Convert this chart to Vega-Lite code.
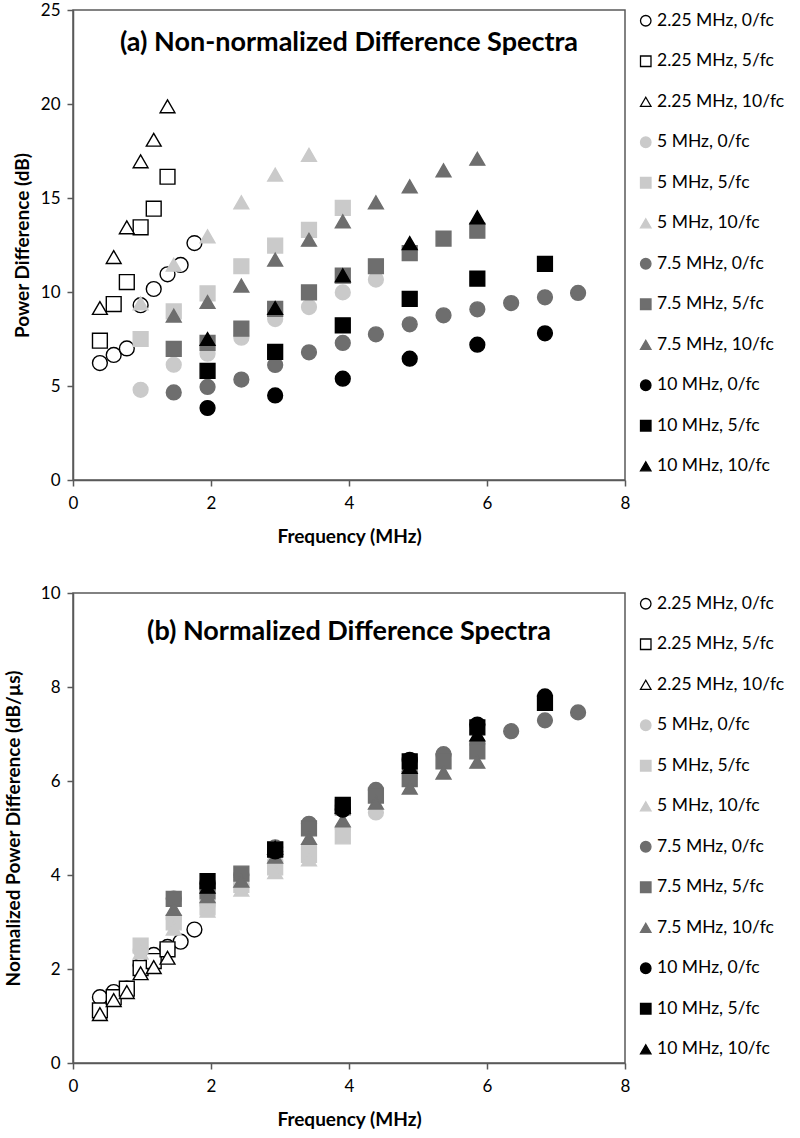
{
  "$schema": "https://vega.github.io/schema/vega-lite/v6.json",
  "background": "white",
  "padding": {"left": 3, "top": 0, "right": 0, "bottom": 0},
  "spacing": 36,
  "config": {
    "font": "Lato",
    "view": {"stroke": "#595959", "strokeWidth": 1.5},
    "axis": {
      "grid": false, "domainColor": "#595959", "domainWidth": 1.5,
      "tickColor": "#595959", "tickWidth": 1.5, "tickSize": 6,
      "labelFont": "Lato", "labelFontSize": 17, "labelColor": "#000000", "labelFlush": false, "labelOverlap": false,
      "titleFont": "Lato", "titleFontSize": 19, "titleFontWeight": "bold", "titleColor": "#000000"
    },
    "axisX": {"labelPadding": 9, "titlePadding": 16},
    "axisY": {"labelPadding": 7},
    "legend": {
      "labelFont": "Lato", "labelFontSize": 17.5, "labelColor": "#000000",
      "rowPadding": 21.5, "symbolSize": 110, "symbolStrokeWidth": 1.3, "offset": 10, "padding": 2, "labelOffset": 2.5
    },
    "title": {"font": "Lato", "fontSize": 27, "fontWeight": "bold", "color": "#000000", "anchor": "middle", "frame": "group", "baseline": "alphabetic", "offset": -56}
  },
  "datasets": {
    "a": [
      {"s": "2.25 MHz, 0/fc", "f": 0.39, "v": 6.22}, {"s": "2.25 MHz, 0/fc", "f": 0.59, "v": 6.65}, {"s": "2.25 MHz, 0/fc", "f": 0.78, "v": 7.0}, {"s": "2.25 MHz, 0/fc", "f": 0.98, "v": 9.3}, {"s": "2.25 MHz, 0/fc", "f": 1.17, "v": 10.16}, {"s": "2.25 MHz, 0/fc", "f": 1.37, "v": 10.94}, {"s": "2.25 MHz, 0/fc", "f": 1.56, "v": 11.44}, {"s": "2.25 MHz, 0/fc", "f": 1.76, "v": 12.6},
      {"s": "2.25 MHz, 5/fc", "f": 0.39, "v": 7.41}, {"s": "2.25 MHz, 5/fc", "f": 0.59, "v": 9.36}, {"s": "2.25 MHz, 5/fc", "f": 0.78, "v": 10.53}, {"s": "2.25 MHz, 5/fc", "f": 0.98, "v": 13.44}, {"s": "2.25 MHz, 5/fc", "f": 1.17, "v": 14.43}, {"s": "2.25 MHz, 5/fc", "f": 1.37, "v": 16.13},
      {"s": "2.25 MHz, 10/fc", "f": 0.39, "v": 9.15}, {"s": "2.25 MHz, 10/fc", "f": 0.59, "v": 11.86}, {"s": "2.25 MHz, 10/fc", "f": 0.78, "v": 13.44}, {"s": "2.25 MHz, 10/fc", "f": 0.98, "v": 16.95}, {"s": "2.25 MHz, 10/fc", "f": 1.17, "v": 18.1}, {"s": "2.25 MHz, 10/fc", "f": 1.37, "v": 19.88},
      {"s": "5 MHz, 0/fc", "f": 0.98, "v": 4.8}, {"s": "5 MHz, 0/fc", "f": 1.46, "v": 6.13}, {"s": "5 MHz, 0/fc", "f": 1.95, "v": 6.72}, {"s": "5 MHz, 0/fc", "f": 2.44, "v": 7.57}, {"s": "5 MHz, 0/fc", "f": 2.93, "v": 8.56}, {"s": "5 MHz, 0/fc", "f": 3.42, "v": 9.2}, {"s": "5 MHz, 0/fc", "f": 3.91, "v": 9.98}, {"s": "5 MHz, 0/fc", "f": 4.39, "v": 10.66},
      {"s": "5 MHz, 5/fc", "f": 0.98, "v": 7.5}, {"s": "5 MHz, 5/fc", "f": 1.46, "v": 8.97}, {"s": "5 MHz, 5/fc", "f": 1.95, "v": 9.93}, {"s": "5 MHz, 5/fc", "f": 2.44, "v": 11.37}, {"s": "5 MHz, 5/fc", "f": 2.93, "v": 12.47}, {"s": "5 MHz, 5/fc", "f": 3.42, "v": 13.3}, {"s": "5 MHz, 5/fc", "f": 3.91, "v": 14.47},
      {"s": "5 MHz, 10/fc", "f": 0.98, "v": 9.4}, {"s": "5 MHz, 10/fc", "f": 1.46, "v": 11.45}, {"s": "5 MHz, 10/fc", "f": 1.95, "v": 12.96}, {"s": "5 MHz, 10/fc", "f": 2.44, "v": 14.77}, {"s": "5 MHz, 10/fc", "f": 2.93, "v": 16.24}, {"s": "5 MHz, 10/fc", "f": 3.42, "v": 17.3},
      {"s": "7.5 MHz, 0/fc", "f": 1.46, "v": 4.66}, {"s": "7.5 MHz, 0/fc", "f": 1.95, "v": 4.95}, {"s": "7.5 MHz, 0/fc", "f": 2.44, "v": 5.34}, {"s": "7.5 MHz, 0/fc", "f": 2.93, "v": 6.12}, {"s": "7.5 MHz, 0/fc", "f": 3.42, "v": 6.79}, {"s": "7.5 MHz, 0/fc", "f": 3.91, "v": 7.29}, {"s": "7.5 MHz, 0/fc", "f": 4.39, "v": 7.75}, {"s": "7.5 MHz, 0/fc", "f": 4.88, "v": 8.28}, {"s": "7.5 MHz, 0/fc", "f": 5.37, "v": 8.76}, {"s": "7.5 MHz, 0/fc", "f": 5.86, "v": 9.08}, {"s": "7.5 MHz, 0/fc", "f": 6.35, "v": 9.41}, {"s": "7.5 MHz, 0/fc", "f": 6.84, "v": 9.72}, {"s": "7.5 MHz, 0/fc", "f": 7.32, "v": 9.95},
      {"s": "7.5 MHz, 5/fc", "f": 1.46, "v": 6.97}, {"s": "7.5 MHz, 5/fc", "f": 1.95, "v": 7.29}, {"s": "7.5 MHz, 5/fc", "f": 2.44, "v": 8.05}, {"s": "7.5 MHz, 5/fc", "f": 2.93, "v": 9.1}, {"s": "7.5 MHz, 5/fc", "f": 3.42, "v": 9.98}, {"s": "7.5 MHz, 5/fc", "f": 3.91, "v": 10.87}, {"s": "7.5 MHz, 5/fc", "f": 4.39, "v": 11.37}, {"s": "7.5 MHz, 5/fc", "f": 4.88, "v": 12.07}, {"s": "7.5 MHz, 5/fc", "f": 5.37, "v": 12.84}, {"s": "7.5 MHz, 5/fc", "f": 5.86, "v": 13.26},
      {"s": "7.5 MHz, 10/fc", "f": 1.46, "v": 8.74}, {"s": "7.5 MHz, 10/fc", "f": 1.95, "v": 9.47}, {"s": "7.5 MHz, 10/fc", "f": 2.44, "v": 10.34}, {"s": "7.5 MHz, 10/fc", "f": 2.93, "v": 11.72}, {"s": "7.5 MHz, 10/fc", "f": 3.42, "v": 12.78}, {"s": "7.5 MHz, 10/fc", "f": 3.91, "v": 13.76}, {"s": "7.5 MHz, 10/fc", "f": 4.39, "v": 14.77}, {"s": "7.5 MHz, 10/fc", "f": 4.88, "v": 15.62}, {"s": "7.5 MHz, 10/fc", "f": 5.37, "v": 16.47}, {"s": "7.5 MHz, 10/fc", "f": 5.86, "v": 17.09},
      {"s": "10 MHz, 0/fc", "f": 1.95, "v": 3.83}, {"s": "10 MHz, 0/fc", "f": 2.93, "v": 4.5}, {"s": "10 MHz, 0/fc", "f": 3.91, "v": 5.39}, {"s": "10 MHz, 0/fc", "f": 4.88, "v": 6.45}, {"s": "10 MHz, 0/fc", "f": 5.86, "v": 7.2}, {"s": "10 MHz, 0/fc", "f": 6.84, "v": 7.8},
      {"s": "10 MHz, 5/fc", "f": 1.95, "v": 5.81}, {"s": "10 MHz, 5/fc", "f": 2.93, "v": 6.81}, {"s": "10 MHz, 5/fc", "f": 3.91, "v": 8.23}, {"s": "10 MHz, 5/fc", "f": 4.88, "v": 9.63}, {"s": "10 MHz, 5/fc", "f": 5.86, "v": 10.71}, {"s": "10 MHz, 5/fc", "f": 6.84, "v": 11.49},
      {"s": "10 MHz, 10/fc", "f": 1.95, "v": 7.5}, {"s": "10 MHz, 10/fc", "f": 2.93, "v": 9.15}, {"s": "10 MHz, 10/fc", "f": 3.91, "v": 10.89}, {"s": "10 MHz, 10/fc", "f": 4.88, "v": 12.6}, {"s": "10 MHz, 10/fc", "f": 5.86, "v": 13.97}
    ],
    "b": [
      {"s": "2.25 MHz, 0/fc", "f": 0.39, "v": 1.40}, {"s": "2.25 MHz, 0/fc", "f": 0.59, "v": 1.51}, {"s": "2.25 MHz, 0/fc", "f": 0.78, "v": 1.58}, {"s": "2.25 MHz, 0/fc", "f": 0.98, "v": 2.08}, {"s": "2.25 MHz, 0/fc", "f": 1.17, "v": 2.30}, {"s": "2.25 MHz, 0/fc", "f": 1.37, "v": 2.47}, {"s": "2.25 MHz, 0/fc", "f": 1.56, "v": 2.58}, {"s": "2.25 MHz, 0/fc", "f": 1.76, "v": 2.84},
      {"s": "2.25 MHz, 5/fc", "f": 0.39, "v": 1.12}, {"s": "2.25 MHz, 5/fc", "f": 0.59, "v": 1.40}, {"s": "2.25 MHz, 5/fc", "f": 0.78, "v": 1.58}, {"s": "2.25 MHz, 5/fc", "f": 0.98, "v": 2.02}, {"s": "2.25 MHz, 5/fc", "f": 1.17, "v": 2.17}, {"s": "2.25 MHz, 5/fc", "f": 1.37, "v": 2.42},
      {"s": "2.25 MHz, 10/fc", "f": 0.39, "v": 1.04}, {"s": "2.25 MHz, 10/fc", "f": 0.59, "v": 1.34}, {"s": "2.25 MHz, 10/fc", "f": 0.78, "v": 1.51}, {"s": "2.25 MHz, 10/fc", "f": 0.98, "v": 1.91}, {"s": "2.25 MHz, 10/fc", "f": 1.17, "v": 2.04}, {"s": "2.25 MHz, 10/fc", "f": 1.37, "v": 2.24},
      {"s": "5 MHz, 0/fc", "f": 0.98, "v": 2.4}, {"s": "5 MHz, 0/fc", "f": 1.46, "v": 3.07}, {"s": "5 MHz, 0/fc", "f": 1.95, "v": 3.36}, {"s": "5 MHz, 0/fc", "f": 2.44, "v": 3.79}, {"s": "5 MHz, 0/fc", "f": 2.93, "v": 4.28}, {"s": "5 MHz, 0/fc", "f": 3.42, "v": 4.6}, {"s": "5 MHz, 0/fc", "f": 3.91, "v": 4.99}, {"s": "5 MHz, 0/fc", "f": 4.39, "v": 5.33},
      {"s": "5 MHz, 5/fc", "f": 0.98, "v": 2.5}, {"s": "5 MHz, 5/fc", "f": 1.46, "v": 2.99}, {"s": "5 MHz, 5/fc", "f": 1.95, "v": 3.31}, {"s": "5 MHz, 5/fc", "f": 2.44, "v": 3.79}, {"s": "5 MHz, 5/fc", "f": 2.93, "v": 4.16}, {"s": "5 MHz, 5/fc", "f": 3.42, "v": 4.43}, {"s": "5 MHz, 5/fc", "f": 3.91, "v": 4.82},
      {"s": "5 MHz, 10/fc", "f": 0.98, "v": 2.35}, {"s": "5 MHz, 10/fc", "f": 1.46, "v": 2.86}, {"s": "5 MHz, 10/fc", "f": 1.95, "v": 3.24}, {"s": "5 MHz, 10/fc", "f": 2.44, "v": 3.69}, {"s": "5 MHz, 10/fc", "f": 2.93, "v": 4.06}, {"s": "5 MHz, 10/fc", "f": 3.42, "v": 4.33},
      {"s": "7.5 MHz, 0/fc", "f": 1.46, "v": 3.50}, {"s": "7.5 MHz, 0/fc", "f": 1.95, "v": 3.71}, {"s": "7.5 MHz, 0/fc", "f": 2.44, "v": 4.0}, {"s": "7.5 MHz, 0/fc", "f": 2.93, "v": 4.59}, {"s": "7.5 MHz, 0/fc", "f": 3.42, "v": 5.09}, {"s": "7.5 MHz, 0/fc", "f": 3.91, "v": 5.47}, {"s": "7.5 MHz, 0/fc", "f": 4.39, "v": 5.81}, {"s": "7.5 MHz, 0/fc", "f": 4.88, "v": 6.21}, {"s": "7.5 MHz, 0/fc", "f": 5.37, "v": 6.57}, {"s": "7.5 MHz, 0/fc", "f": 5.86, "v": 6.81}, {"s": "7.5 MHz, 0/fc", "f": 6.35, "v": 7.06}, {"s": "7.5 MHz, 0/fc", "f": 6.84, "v": 7.29}, {"s": "7.5 MHz, 0/fc", "f": 7.32, "v": 7.46},
      {"s": "7.5 MHz, 5/fc", "f": 1.46, "v": 3.49}, {"s": "7.5 MHz, 5/fc", "f": 1.95, "v": 3.65}, {"s": "7.5 MHz, 5/fc", "f": 2.44, "v": 4.03}, {"s": "7.5 MHz, 5/fc", "f": 2.93, "v": 4.55}, {"s": "7.5 MHz, 5/fc", "f": 3.42, "v": 4.99}, {"s": "7.5 MHz, 5/fc", "f": 3.91, "v": 5.44}, {"s": "7.5 MHz, 5/fc", "f": 4.39, "v": 5.69}, {"s": "7.5 MHz, 5/fc", "f": 4.88, "v": 6.04}, {"s": "7.5 MHz, 5/fc", "f": 5.37, "v": 6.42}, {"s": "7.5 MHz, 5/fc", "f": 5.86, "v": 6.63},
      {"s": "7.5 MHz, 10/fc", "f": 1.46, "v": 3.28}, {"s": "7.5 MHz, 10/fc", "f": 1.95, "v": 3.55}, {"s": "7.5 MHz, 10/fc", "f": 2.44, "v": 3.88}, {"s": "7.5 MHz, 10/fc", "f": 2.93, "v": 4.39}, {"s": "7.5 MHz, 10/fc", "f": 3.42, "v": 4.79}, {"s": "7.5 MHz, 10/fc", "f": 3.91, "v": 5.16}, {"s": "7.5 MHz, 10/fc", "f": 4.39, "v": 5.54}, {"s": "7.5 MHz, 10/fc", "f": 4.88, "v": 5.86}, {"s": "7.5 MHz, 10/fc", "f": 5.37, "v": 6.18}, {"s": "7.5 MHz, 10/fc", "f": 5.86, "v": 6.41},
      {"s": "10 MHz, 0/fc", "f": 1.95, "v": 3.83}, {"s": "10 MHz, 0/fc", "f": 2.93, "v": 4.5}, {"s": "10 MHz, 0/fc", "f": 3.91, "v": 5.39}, {"s": "10 MHz, 0/fc", "f": 4.88, "v": 6.45}, {"s": "10 MHz, 0/fc", "f": 5.86, "v": 7.2}, {"s": "10 MHz, 0/fc", "f": 6.84, "v": 7.8},
      {"s": "10 MHz, 5/fc", "f": 1.95, "v": 3.87}, {"s": "10 MHz, 5/fc", "f": 2.93, "v": 4.54}, {"s": "10 MHz, 5/fc", "f": 3.91, "v": 5.49}, {"s": "10 MHz, 5/fc", "f": 4.88, "v": 6.42}, {"s": "10 MHz, 5/fc", "f": 5.86, "v": 7.14}, {"s": "10 MHz, 5/fc", "f": 6.84, "v": 7.66},
      {"s": "10 MHz, 10/fc", "f": 1.95, "v": 3.75}, {"s": "10 MHz, 10/fc", "f": 2.93, "v": 4.58}, {"s": "10 MHz, 10/fc", "f": 3.91, "v": 5.45}, {"s": "10 MHz, 10/fc", "f": 4.88, "v": 6.3}, {"s": "10 MHz, 10/fc", "f": 5.86, "v": 6.99}
    ]
  },
  "vconcat": [
    {
      "width": 552, "height": 470,
      "title": {"text": "(a) Non-normalized Difference Spectra"},
      "data": {"name": "a"},
      "mark": {"type": "point", "filled": true, "opacity": 1, "size": 220, "strokeWidth": 1.4},
      "encoding": {
        "x": {"field": "f", "type": "quantitative", "scale": {"domain": [0, 8], "nice": false, "zero": false}, "axis": {"values": [0, 2, 4, 6, 8], "title": "Frequency (MHz)"}},
        "y": {"field": "v", "type": "quantitative", "scale": {"domain": [0, 25], "nice": false}, "axis": {"values": [0, 5, 10, 15, 20, 25], "title": "Power Difference (dB)", "titlePadding": 8}},
        "shape": {"field": "s", "type": "nominal", "sort": null, "title": null, "scale": {"domain": ["2.25 MHz, 0/fc", "2.25 MHz, 5/fc", "2.25 MHz, 10/fc", "5 MHz, 0/fc", "5 MHz, 5/fc", "5 MHz, 10/fc", "7.5 MHz, 0/fc", "7.5 MHz, 5/fc", "7.5 MHz, 10/fc", "10 MHz, 0/fc", "10 MHz, 5/fc", "10 MHz, 10/fc"], "range": ["circle", "square", "triangle-up", "circle", "square", "triangle-up", "circle", "square", "triangle-up", "circle", "square", "triangle-up"]}},
        "fill": {"field": "s", "type": "nominal", "sort": null, "title": null, "scale": {"domain": ["2.25 MHz, 0/fc", "2.25 MHz, 5/fc", "2.25 MHz, 10/fc", "5 MHz, 0/fc", "5 MHz, 5/fc", "5 MHz, 10/fc", "7.5 MHz, 0/fc", "7.5 MHz, 5/fc", "7.5 MHz, 10/fc", "10 MHz, 0/fc", "10 MHz, 5/fc", "10 MHz, 10/fc"], "range": ["#ffffff", "#ffffff", "#ffffff", "#cacaca", "#cacaca", "#cacaca", "#6e6e6e", "#6e6e6e", "#6e6e6e", "#000000", "#000000", "#000000"]}},
        "stroke": {"field": "s", "type": "nominal", "sort": null, "title": null, "scale": {"domain": ["2.25 MHz, 0/fc", "2.25 MHz, 5/fc", "2.25 MHz, 10/fc", "5 MHz, 0/fc", "5 MHz, 5/fc", "5 MHz, 10/fc", "7.5 MHz, 0/fc", "7.5 MHz, 5/fc", "7.5 MHz, 10/fc", "10 MHz, 0/fc", "10 MHz, 5/fc", "10 MHz, 10/fc"], "range": ["#000000", "#000000", "#000000", "#cacaca", "#cacaca", "#cacaca", "#6e6e6e", "#6e6e6e", "#6e6e6e", "#000000", "#000000", "#000000"]}}
      }
    },
    {
      "width": 552, "height": 470,
      "title": {"text": "(b) Normalized Difference Spectra", "offset": -62},
      "data": {"name": "b"},
      "mark": {"type": "point", "filled": true, "opacity": 1, "size": 220, "strokeWidth": 1.4},
      "encoding": {
        "x": {"field": "f", "type": "quantitative", "scale": {"domain": [0, 8], "nice": false, "zero": false}, "axis": {"values": [0, 2, 4, 6, 8], "title": "Frequency (MHz)"}},
        "y": {"field": "v", "type": "quantitative", "scale": {"domain": [0, 10], "nice": false}, "axis": {"values": [0, 2, 4, 6, 8, 10], "title": "Normalized Power Difference (dB/µs)", "titlePadding": 17}},
        "shape": {"field": "s", "type": "nominal", "sort": null, "title": null, "scale": {"domain": ["2.25 MHz, 0/fc", "2.25 MHz, 5/fc", "2.25 MHz, 10/fc", "5 MHz, 0/fc", "5 MHz, 5/fc", "5 MHz, 10/fc", "7.5 MHz, 0/fc", "7.5 MHz, 5/fc", "7.5 MHz, 10/fc", "10 MHz, 0/fc", "10 MHz, 5/fc", "10 MHz, 10/fc"], "range": ["circle", "square", "triangle-up", "circle", "square", "triangle-up", "circle", "square", "triangle-up", "circle", "square", "triangle-up"]}},
        "fill": {"field": "s", "type": "nominal", "sort": null, "title": null, "scale": {"domain": ["2.25 MHz, 0/fc", "2.25 MHz, 5/fc", "2.25 MHz, 10/fc", "5 MHz, 0/fc", "5 MHz, 5/fc", "5 MHz, 10/fc", "7.5 MHz, 0/fc", "7.5 MHz, 5/fc", "7.5 MHz, 10/fc", "10 MHz, 0/fc", "10 MHz, 5/fc", "10 MHz, 10/fc"], "range": ["#ffffff", "#ffffff", "#ffffff", "#cacaca", "#cacaca", "#cacaca", "#6e6e6e", "#6e6e6e", "#6e6e6e", "#000000", "#000000", "#000000"]}},
        "stroke": {"field": "s", "type": "nominal", "sort": null, "title": null, "scale": {"domain": ["2.25 MHz, 0/fc", "2.25 MHz, 5/fc", "2.25 MHz, 10/fc", "5 MHz, 0/fc", "5 MHz, 5/fc", "5 MHz, 10/fc", "7.5 MHz, 0/fc", "7.5 MHz, 5/fc", "7.5 MHz, 10/fc", "10 MHz, 0/fc", "10 MHz, 5/fc", "10 MHz, 10/fc"], "range": ["#000000", "#000000", "#000000", "#cacaca", "#cacaca", "#cacaca", "#6e6e6e", "#6e6e6e", "#6e6e6e", "#000000", "#000000", "#000000"]}}
      }
    }
  ],
  "resolve": {
    "scale": {"x": "independent", "y": "independent", "shape": "independent", "fill": "independent", "stroke": "independent"},
    "legend": {"shape": "independent", "fill": "independent", "stroke": "independent"}
  }
}
